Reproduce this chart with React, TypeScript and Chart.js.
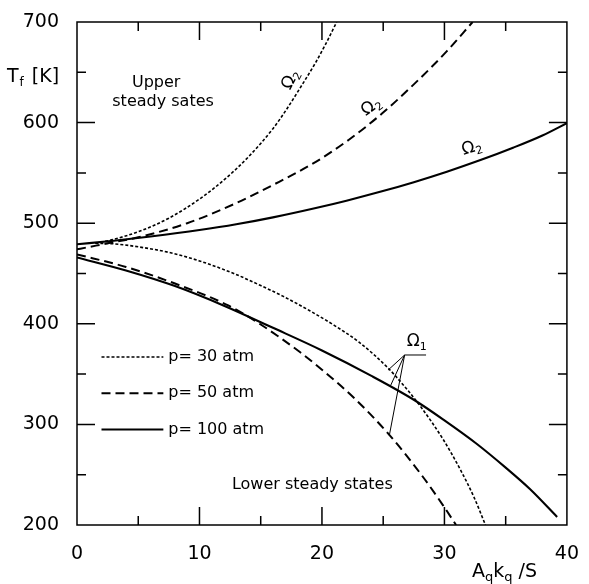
import React, { useEffect, useRef } from 'react';
import { Chart, registerables } from 'chart.js';

Chart.register(...registerables);

// ---- data ----
const X_P30_UPPER = [1.5, 3, 5, 7.5, 10, 12, 14, 16, 17.1, 18.4, 19.5, 20.3, 21.0, 21.2];
const T_P30_UPPER = [480, 484, 491.5, 505, 524, 543, 566, 594, 613, 638, 660, 678, 695, 700];
const X_P30_LOWER = [1.5, 3, 5, 7.5, 10, 12.8, 15, 16.8, 19, 21, 23, 25.4, 27, 28.1, 29.9, 31.3, 32.4, 33.35];
const T_P30_LOWER = [480, 479.5, 476.5, 471, 462.5, 450, 438, 427.5, 413, 398.5, 382, 356, 334, 317, 285, 255, 228, 200];

const X_P50_UPPER = [0, 2.5, 5, 9, 13, 16, 19.5, 22.2, 24.9, 27.5, 30.2, 32.3];
const T_P50_UPPER = [474, 480, 486, 500, 520, 538, 561, 583, 609, 638, 671, 700];
const X_P50_LOWER = [0, 4, 8, 12.3, 15, 18.2, 20, 22.7, 25.5, 28.1, 29.9, 30.95];
const T_P50_LOWER = [469, 456.5, 440, 418.5, 399.3, 371.9, 354.4, 325.3, 289.6, 250.2, 219.3, 200];

const X_P100_UPPER = [0, 3, 6, 10, 13, 16, 19.5, 22, 24.9, 27.5, 30.2, 33, 35.6, 38, 40];
const T_P100_UPPER = [479, 482.6, 486.8, 493.2, 498.9, 505.8, 515.1, 522.4, 531.7, 540.8, 551.2, 563, 575, 587.2, 599.5];
const X_P100_LOWER = [0, 4, 8, 12, 16, 20, 24, 27.5, 30, 32.6, 35, 37, 39.2];
const T_P100_LOWER = [466, 453, 437.5, 418, 396, 373.5, 348.5, 324.5, 304, 281, 257, 235.5, 208];

const LEGEND_LABELS = ['p= 30 atm', 'p= 50 atm', 'p= 100 atm'];
const X_MIN = 0, X_MAX = 40, X_STEP = 10;
const Y_MIN = 200, Y_MAX = 700, Y_STEP = 100;
const X_MAJOR_TICKS = [10, 20, 30];
const X_MINOR_TICKS = [5, 15, 25, 35];
const Y_MAJOR_TICKS = [300, 400, 500, 600];
const Y_MINOR_TICKS = [250, 350, 450, 550, 650];

const FONT = '"DejaVu Sans", "Liberation Sans", sans-serif';

const STYLES = [
  { dash: [3, 2], width: 1.6 },
  { dash: [9, 5], width: 2 },
  { dash: [], width: 2.1 },
];

const pts = (xs: number[], ys: number[]) => xs.map((x, i) => ({ x, y: ys[i] }));

const overlay = {
  id: 'overlay',
  afterDraw(chart: any) {
    const { ctx, chartArea: a } = chart;
    const sx = chart.scales.x;
    const sy = chart.scales.y;
    const px = (v: number) => sx.getPixelForValue(v);
    const py = (v: number) => sy.getPixelForValue(v);
    ctx.save();
    ctx.strokeStyle = '#000';
    ctx.fillStyle = '#000';
    ctx.lineWidth = 1.5;
    ctx.setLineDash([]);
    ctx.strokeRect(a.left, a.top, a.right - a.left, a.bottom - a.top);

    const MAJ = 18, MIN = 9;
    const vTick = (v: number, len: number) => {
      const p = px(v);
      ctx.beginPath();
      ctx.moveTo(p, a.bottom); ctx.lineTo(p, a.bottom - len);
      ctx.moveTo(p, a.top); ctx.lineTo(p, a.top + len);
      ctx.stroke();
    };
    const hTick = (v: number, len: number) => {
      const p = py(v);
      ctx.beginPath();
      ctx.moveTo(a.left, p); ctx.lineTo(a.left + len, p);
      ctx.moveTo(a.right, p); ctx.lineTo(a.right - len, p);
      ctx.stroke();
    };
    X_MAJOR_TICKS.forEach(v => vTick(v, MAJ));
    X_MINOR_TICKS.forEach(v => vTick(v, MIN));
    Y_MAJOR_TICKS.forEach(v => hTick(v, MAJ));
    Y_MINOR_TICKS.forEach(v => hTick(v, MIN));

    // Legend inside plot
    ctx.textBaseline = 'middle';
    ctx.textAlign = 'left';
    ctx.font = `16px ${FONT}`;
    const legendY = [367, 331, 295];
    LEGEND_LABELS.forEach((lab, i) => {
      const st = STYLES[i];
      ctx.lineWidth = st.width;
      ctx.setLineDash(st.dash);
      ctx.beginPath();
      ctx.moveTo(px(2.0), py(legendY[i]));
      ctx.lineTo(px(7.05), py(legendY[i]));
      ctx.stroke();
      ctx.fillText(lab, px(7.45), py(legendY[i]));
    });
    ctx.setLineDash([]);

    // Region annotations
    ctx.textBaseline = 'alphabetic';
    ctx.font = `16px ${FONT}`;
    ctx.fillText('Upper', px(4.49), py(635));
    ctx.fillText('steady sates', px(2.88), py(616.5));
    ctx.fillText('Lower steady states', px(12.65), py(235.5));

    // Omega labels
    const omega = (cx: number, cy: number, ang: number, sub: string) => {
      ctx.save();
      ctx.translate(px(cx), py(cy));
      ctx.rotate((ang * Math.PI) / 180);
      ctx.font = `17px ${FONT}`;
      ctx.textBaseline = 'middle';
      ctx.textAlign = 'left';
      const w = ctx.measureText('Ω').width;
      ctx.fillText('Ω', -w / 2 - 3, 0);
      ctx.font = `11px ${FONT}`;
      ctx.fillText(sub, w / 2 - 3, 5);
      ctx.restore();
    };
    omega(17.43, 642.3, -62, '2');
    omega(24.0, 615.5, -36, '2');
    omega(32.2, 574.7, -17, '2');
    omega(27.7, 382, 0, '1');

    // Omega1 leader lines
    ctx.lineWidth = 1;
    ctx.beginPath();
    ctx.moveTo(px(28.5), py(369));
    ctx.lineTo(px(26.75), py(369));
    ctx.lineTo(px(25.4), py(354));
    ctx.moveTo(px(26.75), py(369));
    ctx.lineTo(px(25.6), py(338.5));
    ctx.moveTo(px(26.75), py(369));
    ctx.lineTo(px(25.5), py(289));
    ctx.stroke();

    // Axis titles
    ctx.textAlign = 'left';
    ctx.textBaseline = 'alphabetic';
    // y title: T_f [K]
    let tx = a.left - 70;
    const ty = py(650) + 10;
    ctx.font = `19px ${FONT}`;
    ctx.fillText('T', tx, ty);
    tx += ctx.measureText('T').width;
    ctx.font = `12px ${FONT}`;
    ctx.fillText('f', tx + 1, ty + 4);
    tx += ctx.measureText('f').width + 1;
    ctx.font = `19px ${FONT}`;
    ctx.fillText(' [K]', tx + 2, ty);

    // x title: A_q k_q /S
    let xx = px(32.25);
    const xy = a.bottom + 52;
    const big = `19px ${FONT}`, small = `13px ${FONT}`;
    const parts: [string, boolean][] = [['A', false], ['q', true], ['k', false], ['q', true], [' /S', false]];
    parts.forEach(([s, sub]) => {
      ctx.font = sub ? small : big;
      ctx.fillText(s, xx, sub ? xy + 4 : xy);
      xx += ctx.measureText(s).width;
    });

    ctx.restore();
  },
};

export default function App() {
  const ref = useRef<HTMLCanvasElement>(null);
  useEffect(() => {
    if (!ref.current) return;
    const ds = (xs: number[], ys: number[], i: number) => ({
      data: pts(xs, ys),
      borderColor: '#000',
      borderWidth: STYLES[i].width,
      borderDash: STYLES[i].dash,
      pointRadius: 0,
      fill: false,
      cubicInterpolationMode: 'monotone' as const,
    });
    const chart = new Chart(ref.current, {
      type: 'line',
      data: {
        datasets: [
          ds(X_P30_UPPER, T_P30_UPPER, 0),
          ds(X_P30_LOWER, T_P30_LOWER, 0),
          ds(X_P50_UPPER, T_P50_UPPER, 1),
          ds(X_P50_LOWER, T_P50_LOWER, 1),
          ds(X_P100_UPPER, T_P100_UPPER, 2),
          ds(X_P100_LOWER, T_P100_LOWER, 2),
        ],
      },
      options: {
        responsive: false,
        animation: false,
        devicePixelRatio: 1,
        layout: { padding: { left: 0, right: 14, top: 22, bottom: 0 } },
        plugins: { legend: { display: false }, tooltip: { enabled: false } },
        events: [],
        scales: {
          x: {
            type: 'linear',
            min: X_MIN,
            max: X_MAX,
            grid: { display: false },
            border: { display: false },
            afterFit: (s: any) => { s.height = 59; },
            ticks: {
              stepSize: X_STEP,
              color: '#000',
              padding: 10,
              maxRotation: 0,
              font: { family: FONT, size: 19 },
            },
          },
          y: {
            type: 'linear',
            min: Y_MIN,
            max: Y_MAX,
            grid: { display: false },
            border: { display: false },
            afterFit: (s: any) => { s.width = 77; },
            ticks: {
              stepSize: Y_STEP,
              color: '#000',
              padding: 10,
              font: { family: FONT, size: 19 },
            },
          },
        },
      },
      plugins: [overlay],
    });
    return () => chart.destroy();
  }, []);
  return (
    <div style={{ position: 'fixed', left: 0, top: 0, width: 589, height: 584, background: '#fff' }}>
      <canvas ref={ref} width={589} height={584} style={{ display: 'block' }} />
    </div>
  );
}
